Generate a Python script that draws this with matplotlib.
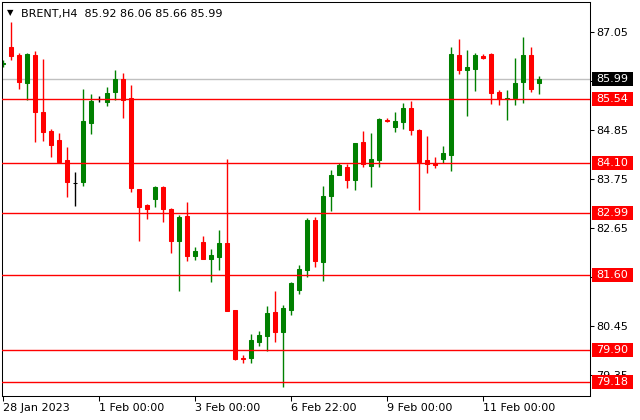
import matplotlib
matplotlib.use("Agg")
import matplotlib.pyplot as plt
from matplotlib.patches import Rectangle

# H4 candles, oldest first
opens = [86.34, 86.72, 86.54, 85.92, 86.54, 85.26, 84.83, 84.63, 84.18, 83.67,
         83.69, 85.02, 85.54, 85.48, 85.70, 86.00, 85.57, 83.52, 83.17, 83.31,
         83.57, 83.08, 82.36, 82.93, 82.03, 82.33, 81.95, 82.00, 82.31, 80.80,
         79.73, 79.73, 80.09, 80.22, 80.75, 80.30, 80.81, 81.26, 81.70, 82.83,
         81.89, 83.37, 83.83, 84.03, 83.73, 84.58, 84.05, 84.18, 85.08, 84.93,
         85.04, 85.35, 84.85, 84.18, 84.11, 84.21, 84.29, 86.54, 86.21, 86.23,
         86.52, 86.57, 85.71, 85.56, 85.58, 85.93, 86.54, 85.92]
highs = [86.43, 87.29, 86.58, 86.58, 86.63, 86.45, 84.88, 84.79, 84.46, 83.91,
         85.78, 85.66, 85.62, 85.82, 86.20, 86.14, 85.86, 83.53, 83.18, 83.60,
         83.60, 83.11, 82.94, 83.24, 82.23, 82.48, 82.18, 82.60, 84.19, 80.80,
         79.79, 80.27, 80.33, 80.90, 81.23, 80.92, 81.44, 81.82, 82.88, 82.90,
         83.59, 83.95, 84.10, 84.08, 84.57, 84.83, 84.78, 85.13, 85.12, 85.26,
         85.46, 85.51, 84.88, 84.72, 84.25, 84.50, 86.73, 86.90, 86.65, 86.58,
         86.56, 86.59, 85.75, 85.75, 86.48, 86.95, 86.72, 86.06]
lows = [86.28, 86.43, 85.77, 85.53, 84.59, 84.61, 84.25, 84.13, 83.35, 83.15,
        83.60, 84.77, 85.48, 85.39, 85.53, 85.13, 83.47, 82.36, 82.85, 83.13,
        82.79, 82.09, 81.24, 81.91, 81.93, 81.96, 81.44, 81.70, 80.79, 79.68,
        79.61, 79.62, 80.00, 79.89, 80.09, 79.08, 80.69, 81.16, 81.55, 81.78,
        81.46, 83.04, 83.83, 83.56, 83.50, 84.01, 83.58, 84.01, 85.03, 84.80,
        84.88, 84.73, 83.05, 83.89, 83.99, 84.10, 83.92, 86.12, 85.17, 85.74,
        86.45, 85.44, 85.42, 85.08, 85.42, 85.47, 85.71, 85.66]
closes = [86.37, 86.52, 85.94, 86.56, 85.26, 84.81, 84.52, 84.14, 83.69, 83.67,
          85.06, 85.51, 85.54, 85.69, 86.00, 85.53, 83.54, 83.13, 83.07, 83.57,
          83.08, 82.36, 82.90, 82.03, 82.13, 81.96, 82.04, 82.31, 80.79, 79.70,
          79.70, 80.13, 80.24, 80.74, 80.32, 80.85, 81.41, 81.73, 82.83, 81.91,
          83.37, 83.84, 84.07, 83.73, 84.55, 84.08, 84.20, 85.10, 85.05, 85.05,
          85.35, 84.86, 84.14, 84.09, 84.06, 84.34, 86.56, 86.20, 86.26, 86.54,
          86.47, 85.69, 85.56, 85.57, 85.90, 86.54, 85.77, 85.99]

levels = [85.54, 84.10, 82.99, 81.60, 79.90, 79.18]
last_price = 85.99
price_ticks = [87.05, 85.95, 84.85, 83.75, 82.65, 81.55, 80.45, 79.35]
# 85.95 and 81.55 sit fully under the price boxes, so no text for them
price_labels = ["87.05", "", "84.85", "83.75", "82.65", "", "80.45", "79.35"]
date_bars = [0, 12, 24, 36, 48, 60]
date_labels = ["28 Jan 2023", "1 Feb 00:00", "3 Feb 00:00",
               "6 Feb 22:00", "9 Feb 00:00", "11 Feb 00:00"]
header = "BRENT,H4  85.92 86.06 85.66 85.99"

plt.rcParams['font.family'] = ['DejaVu Sans']
plt.rcParams['font.size'] = 8

fig = plt.figure(figsize=(6.4, 4.2), dpi=100)
ax = fig.add_axes([2.3 / 640, 24.3 / 420, 587.7 / 640, 393.4 / 420])

# colour per candle: green up, red down, black when open == close
colors = []
for o, c in zip(opens, closes):
    if c > o:
        colors.append('#008000')
    elif c < o:
        colors.append('#ff0000')
    else:
        colors.append('black')

x = list(range(len(opens)))
bottoms = [min(o, c) for o, c in zip(opens, closes)]
heights = [abs(c - o) for o, c in zip(opens, closes)]

# grey bid line under the candles
ax.axhline(last_price, color='#c0c0c0', lw=1, zorder=1)

ax.vlines(x, lows, highs, colors=colors, lw=1, zorder=2)
ax.bar(x, heights, bottom=bottoms, width=0.5, color=colors,
       edgecolor=colors, linewidth=0.75, zorder=2)

# support / resistance lines
for lv in levels:
    ax.axhline(lv, color='#ff0000', lw=1, zorder=3)

ax.set_xlim(-0.125, 73.34)
ax.set_ylim(78.878, 87.725)

ax.yaxis.tick_right()
ax.set_yticks(price_ticks)
ax.set_yticklabels(price_labels)
ax.tick_params(axis='y', direction='out', length=3, width=0.75, pad=1.5, colors='black')
ax.set_xticks(date_bars)
ax.set_xticklabels(date_labels)
ax.tick_params(axis='x', direction='out', length=3.5, width=0.75, pad=1.5)
for lab in ax.get_xticklabels():
    lab.set_horizontalalignment('left')

for s in ax.spines.values():
    s.set_linewidth(0.75)
    s.set_color('black')

# price boxes on the right scale
trans = ax.get_yaxis_transform()
box_h = 14 / 44.47
box_x = (592 - 2.3) / 587.7
box_w = 41 / 587.7
for lv in levels + [last_price]:
    face = 'black' if lv == last_price else '#ff0000'
    ax.add_patch(Rectangle((box_x, lv - box_h / 2), box_w, box_h, transform=trans,
                           facecolor=face, edgecolor='none', clip_on=False, zorder=5))
    ax.text(box_x + 4.5 / 587.7, lv, "%.2f" % lv, transform=trans, color='white',
            va='center', ha='left', clip_on=False, zorder=6)

fig.text(7 / 640, 1 - 12.5 / 420, "\u25bc", fontsize=6, va='center', ha='left')
fig.text(21 / 640, 1 - 16.7 / 420, header, va='baseline', ha='left')

fig.savefig("out.png", dpi=100)
